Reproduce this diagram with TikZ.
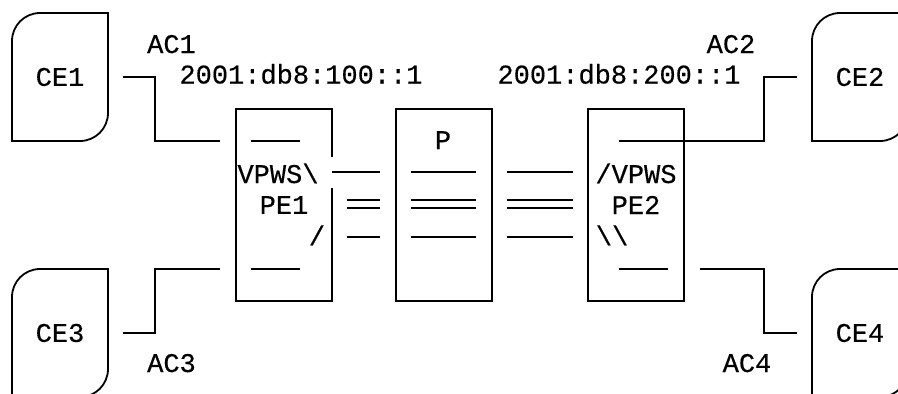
\documentclass[tikz,border=0pt]{standalone}
\usepackage{fontspec}
\newfontfamily\diagface{Liberation Mono}[BoldFont={Liberation Mono}, BoldFeatures={FakeBold=0.4}]
\usepackage{tikz}
\usetikzlibrary{positioning}

\newcommand{\diagfont}{\diagface\bfseries\fontsize{27}{32}\selectfont}
% customer edge box: top-left and bottom-right corners rounded
\newcommand{\ceframe}[1]{\draw[wire] (#1.west) -- (#1.south west) -- (#1.south) [rounded corners=28pt] -- (#1.south east) -- (#1.east) [sharp corners] -- (#1.north east) -- (#1.north) [rounded corners=28pt] -- (#1.north west) -- cycle;}

\begin{document}
\begin{tikzpicture}[x=1pt, y=-1pt,
  wire/.style={line width=1.8pt},
  cebox/.style={minimum width=96pt, minimum height=128pt, inner sep=0pt, outer sep=0pt, font=\diagfont},
  pebox/.style={draw, line width=1.8pt, minimum width=96pt, minimum height=192pt, inner sep=0pt, outer sep=0pt, font=\diagfont},
  txt/.style={anchor=base, inner sep=0pt, font=\diagfont}
]
  \clip (0,0) rectangle (898,394);

  \node[cebox] (ce1) at (60,77) {CE1};
  \node[cebox] (ce2) at (860,77) {CE2};
  \node[cebox] (ce3) at (60,333) {CE3};
  \node[cebox] (ce4) at (860,333) {CE4};
  \ceframe{ce1}
  \ceframe{ce2}
  \ceframe{ce3}
  \ceframe{ce4}

  \node[pebox, draw=none] (pe1) at (284,205) {PE1};
  \node[pebox] (p) at (444,205) {};
  \node[pebox] (pe2) at (636,205) {PE2};
  \draw[wire] (pe1.east |- 0,157) -- (pe1.north east) -- (pe1.north west) -- (pe1.south west) -- (pe1.south east) -- (pe1.east |- 0,188);

  \node[txt] (ac1) at (171.5,53) {AC1};
  \node[txt] (ac2) at (731,53) {AC2};
  \node[txt] (ac3) at (171.5,372) {AC3};
  \node[txt] (ac4) at (747,372) {AC4};
  \node[txt] (addr1) at (301,83.5) {2001:db8:100::1};
  \node[txt] (addr2) at (619,83.5) {2001:db8:200::1};
  \node[txt] (ptxt) at (443,149) {P};
  \node[txt] (vpws1) at (278,183) {VPWS\textbackslash};
  \node[txt] (slash1) at (317,245) {/};
  \node[txt] (vpws2) at (636,183) {/VPWS};
  \node[txt] (bslash2) at (612,245) {\textbackslash\textbackslash};

  \coordinate (ac1end) at (220,141);
  \coordinate (ac3end) at (220,269);
  \coordinate (ac2end) at (619,141);
  \coordinate (ac4end) at (700,269);

  % attachment circuits
  \draw[wire] ([xshift=15pt]ce1.east) -- ++(32,0) |- (ac1end);
  \draw[wire] ([xshift=15pt]ce3.east) -- ++(32,0) |- (ac3end);
  \draw[wire] (ac2end) -| ([xshift=-48pt]ce2.west) -- ([xshift=-15pt]ce2.west);
  \draw[wire] (ac4end) -| ([xshift=-48pt]ce4.west) -- ([xshift=-15pt]ce4.west);

  \draw[wire] (251,141) -- (300,141);
  \draw[wire] (251,269) -- (300,269);
  \draw[wire] (619,269) -- (668,269);

  % pseudowire lines
  \draw[wire] (332,172) -- (380,172);
  \draw[wire] (347,200) -- (380,200);
  \draw[wire] (347,208) -- (380,208);
  \draw[wire] (347,237) -- (380,237);
  \draw[wire] (411,172) -- (476,172);
  \draw[wire] (411,200) -- (476,200);
  \draw[wire] (411,208) -- (476,208);
  \draw[wire] (411,237) -- (476,237);
  \draw[wire] (507,172) -- (573,172);
  \draw[wire] (507,200) -- (573,200);
  \draw[wire] (507,208) -- (573,208);
  \draw[wire] (507,237) -- (573,237);
\end{tikzpicture}
\end{document}
